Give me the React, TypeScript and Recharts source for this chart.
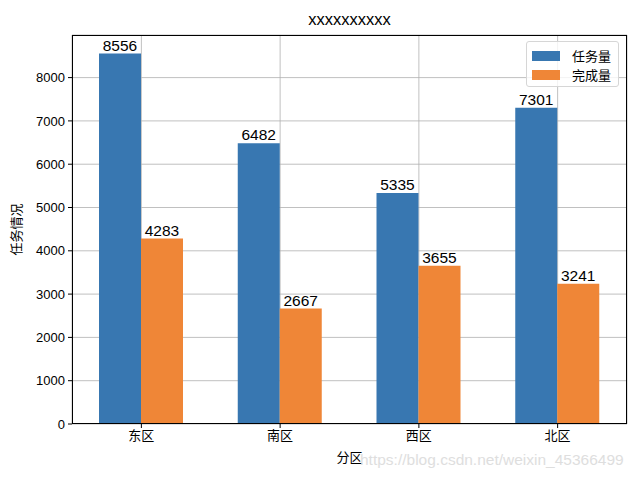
import React from "react";
import {
  BarChart,
  Bar,
  XAxis,
  YAxis,
  CartesianGrid,
  LabelList,
  Label,
} from "recharts";

const regions = ["东区", "南区", "西区", "北区"];
const tasks = [8556, 6482, 5335, 7301];
const done = [4283, 2667, 3655, 3241];
const yTicks = [0, 1000, 2000, 3000, 4000, 5000, 6000, 7000, 8000];

const data = regions.map((name, i) => ({
  name,
  task: tasks[i],
  done: done[i],
}));

const BLUE = "#3877b1";
const ORANGE = "#ef8637";
const font = "'Liberation Sans', Arial, 'Noto Sans CJK SC', sans-serif";

const App = () => {
  return (
    <div
      style={{
        position: "absolute",
        left: 0,
        top: 0,
        width: 640,
        height: 480,
        background: "#fff",
        fontFamily: font,
      }}
    >
      <div
        style={{
          position: "absolute",
          left: 72,
          width: 555,
          top: 10,
          textAlign: "center",
          fontSize: 16.5,
          color: "#000",
        }}
      >
        xxxxxxxxxx
      </div>
      <BarChart
        width={640}
        height={480}
        data={data}
        margin={{ top: 35, right: 13, left: 0, bottom: 0 }}
        barGap={0}
        barSize={42}
      >
        <XAxis
          dataKey="name"
          height={56}
          axisLine={false}
          tickLine={{ stroke: "#000" }}
          tickSize={4}
          tickMargin={3}
          tick={{ fill: "#000", fontSize: 13 }}
        >
          <Label
            value="分区"
            position="insideBottom"
            offset={18}
            style={{ fill: "#000", fontSize: 13 }}
          />
        </XAxis>
        <YAxis
          width={72}
          domain={[0, 8984]}
          ticks={yTicks}
          allowDataOverflow
          axisLine={false}
          tickLine={{ stroke: "#000" }}
          tickSize={4}
          tickMargin={3}
          tick={{ fill: "#000", fontSize: 13 }}
        >
          <Label
            value="任务情况"
            angle={-90}
            position="insideLeft"
            offset={16}
            style={{ fill: "#000", fontSize: 13, textAnchor: "middle" }}
          />
        </YAxis>
        <Bar dataKey="task" name="任务量" fill={BLUE} isAnimationActive={false}>
          <LabelList
            dataKey="task"
            position="top"
            offset={3}
            style={{ fill: "#000", fontSize: 15.5 }}
          />
        </Bar>
        <Bar dataKey="done" name="完成量" fill={ORANGE} isAnimationActive={false}>
          <LabelList
            dataKey="done"
            position="top"
            offset={3}
            style={{ fill: "#000", fontSize: 15.5 }}
          />
        </Bar>
        <CartesianGrid stroke="#b0b0b0" strokeWidth={0.8} fill="none" />
      </BarChart>
      <div
        style={{
          position: "absolute",
          left: 72,
          top: 35,
          width: 555,
          height: 389,
          boxSizing: "border-box",
          border: "1px solid #000",
          pointerEvents: "none",
        }}
      />
      <div
        style={{
          position: "absolute",
          left: 526,
          top: 41,
          width: 93,
          height: 46,
          boxSizing: "border-box",
          border: "1px solid #d6d6d6",
          borderRadius: 3,
          background: "rgba(255,255,255,0.8)",
          fontSize: 13,
          color: "#000",
        }}
      >
        {[
          { label: "任务量", color: BLUE },
          { label: "完成量", color: ORANGE },
        ].map((item, i) => (
          <div
            key={item.label}
            style={{
              position: "absolute",
              left: 5,
              top: 5 + i * 19,
              display: "flex",
              alignItems: "center",
              height: 17,
            }}
          >
            <span
              style={{
                display: "inline-block",
                width: 28,
                height: 10,
                background: item.color,
                marginRight: 12,
              }}
            />
            <span>{item.label}</span>
          </div>
        ))}
      </div>
      <div
        style={{
          position: "absolute",
          left: 360,
          top: 451,
          fontSize: 15.5,
          color: "#dedede",
          whiteSpace: "nowrap",
        }}
      >
        https://blog.csdn.net/weixin_45366499
      </div>
    </div>
  );
};

export default App;
